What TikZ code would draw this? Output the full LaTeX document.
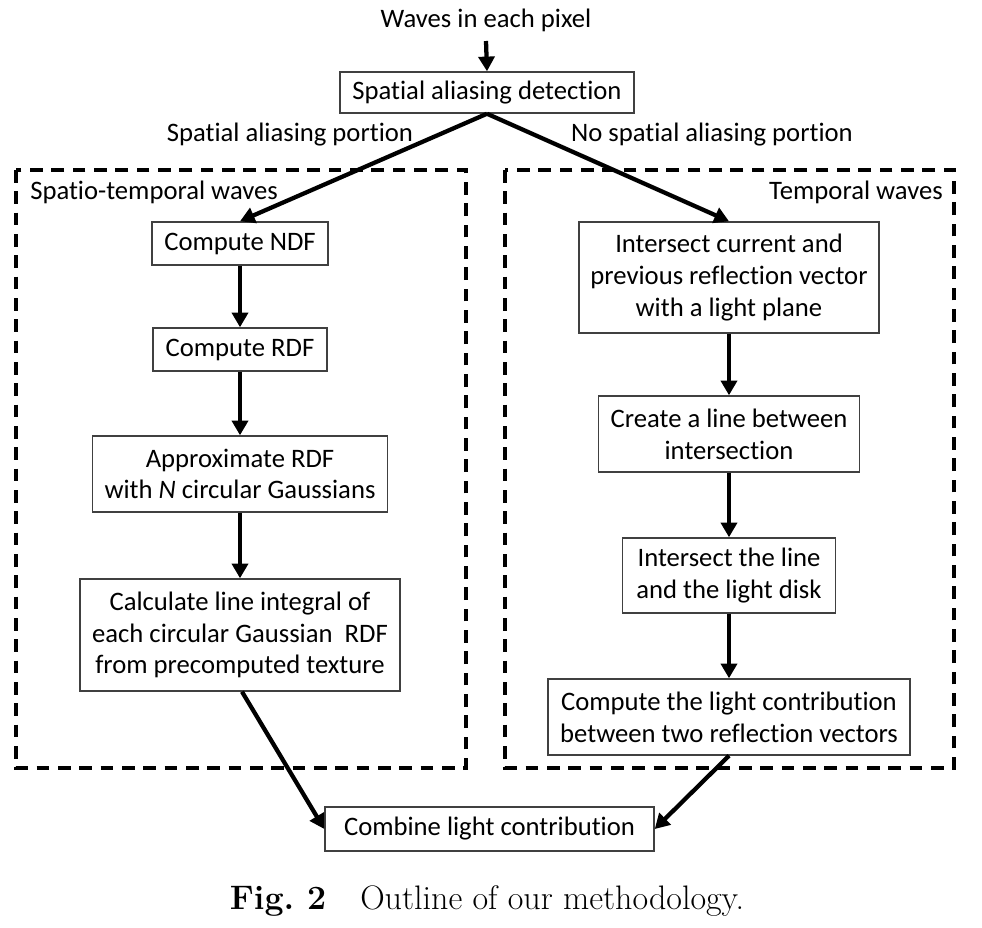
\documentclass[tikz,border=0pt]{standalone}
\usepackage{fontspec}
\newfontfamily\carlito[Ligatures=NoCommon]{Carlito}
\usetikzlibrary{arrows.meta}
\begin{document}
\begin{tikzpicture}[x=0.75pt,y=-0.75pt,
  box/.style={draw=black!75,line width=1.1pt,inner sep=0pt,align=center,
    font=\carlito\fontsize{20}{23.8}\selectfont},
  lbl/.style={inner sep=0pt,align=center,font=\carlito\fontsize{20}{23.8}\selectfont},
  arr/.style={line width=3.2pt,-{Triangle[length=11pt,width=12pt]}},
  region/.style={draw,line width=3pt,dash pattern=on 9.5pt off 6.5pt}]
\useasboundingbox (0,0) rectangle (982,928);
% regions
\draw[region] (16,170) rectangle (466,768);
\draw[region] (505,170) rectangle (954,768);
\node[lbl,anchor=west] (stw) at (30,192) {Spatio-temporal waves};
\node[lbl,anchor=east] (tw) at (943,192) {Temporal waves};
% top
\node[lbl] (waves) at (486,20) {Waves in each pixel};
\coordinate (wstart) at (486,41);
\node[box,minimum width=220.5pt,minimum height=30.75pt] (det) at (487,92.5) {Spatial aliasing detection};
\node[lbl] (lsp) at (290,135) {Spatial aliasing portion};
\node[lbl] (lnsp) at (712,135) {No spatial aliasing portion};
% left column
\node[box,minimum width=132pt,minimum height=32.25pt] (ndf) at (240,243.5) {Compute NDF};
\node[box,minimum width=130.5pt,minimum height=32.25pt] (rdf) at (240,349.5) {Compute RDF};
\node[box,minimum width=221.25pt,minimum height=57pt] (approx) at (240,474) {Approximate RDF\\with \textit{N} circular Gaussians};
\node[box,minimum width=240pt,minimum height=84pt] (calc) at (240,635) {Calculate line integral of\\each circular Gaussian\ \ RDF\\from precomputed texture};
% right column
\node[box,minimum width=225pt,minimum height=83.25pt] (inter) at (729,277.5) {Intersect current and\\previous reflection vector\\with a light plane};
\node[box,minimum width=195.75pt,minimum height=57pt] (line) at (729,434) {Create a line between\\intersection};
\node[box,minimum width=159.75pt,minimum height=56.25pt] (disk) at (729,575.5) {Intersect the line\\and the light disk};
\node[box,minimum width=271.5pt,minimum height=57pt] (light) at (729,717) {Compute the light contribution\\between two reflection vectors};
% bottom
\node[box,minimum width=246.75pt,minimum height=33pt] (comb) at (489.5,829) {Combine light contribution};
\node[inner sep=0pt,font=\fontsize{25.5}{30}\selectfont] (cap) at (487,901) {\textbf{Fig.~2}\quad Outline of our methodology.};
% arrows
\draw[arr] (wstart) -- (det.north);
\draw[arr] (det.south) -- (ndf.north);
\draw[arr] (det.south) -- (inter.north);
\draw[arr] (ndf) -- (rdf);
\draw[arr] (rdf) -- (approx);
\draw[arr] (approx) -- (calc);
\draw[arr] (inter) -- (line);
\draw[arr] (line) -- (disk);
\draw[arr] (disk) -- (light);
\draw[arr] ([xshift=1.5pt]calc.south) -- (comb.west);
\draw[arr] (light.south) -- (comb.east);
\end{tikzpicture}
\end{document}
